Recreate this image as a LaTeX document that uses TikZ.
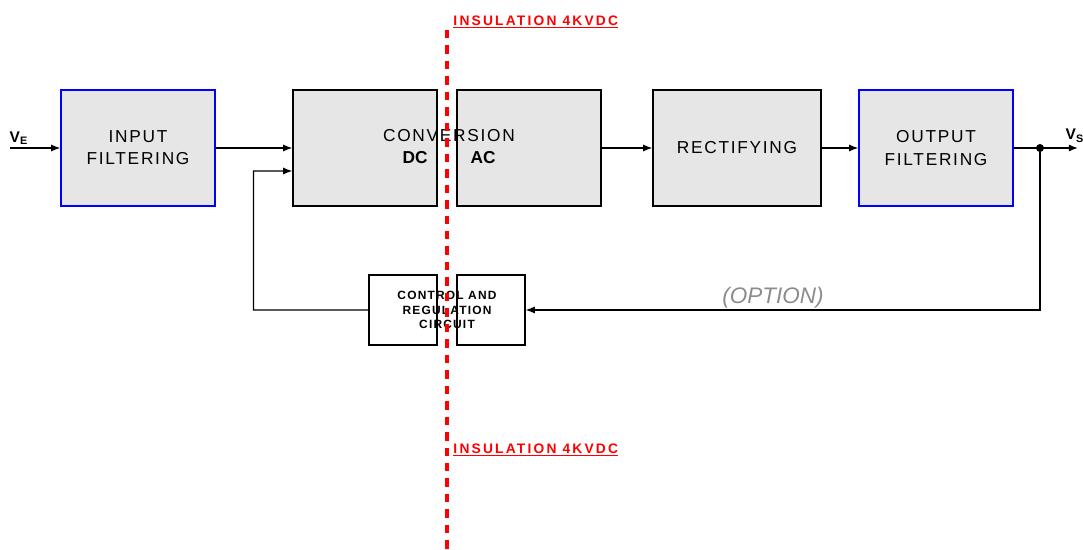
\documentclass[tikz,border=0pt]{standalone}
\usepackage{fontspec}
\setmainfont{Liberation Sans}
\newfontfamily\spacedfont[LetterSpace=10]{Liberation Sans}
\newfontfamily\widefont[LetterSpace=16]{Liberation Sans}
\usepackage{xcolor}
\usetikzlibrary{arrows.meta, positioning, calc}
\definecolor{boxgray}{RGB}{230,230,230}
\definecolor{filterblue}{RGB}{0,0,255}
\definecolor{isored}{RGB}{255,0,0}

\begin{document}
\begin{tikzpicture}[
  box/.style={draw, line width=0.9pt, fill=boxgray,
              font=\spacedfont\fontsize{12.3}{15.8}\selectfont, align=center,
              minimum width=3.6cm, minimum height=2.9cm},
  filterbox/.style={box, draw=filterblue, minimum width=3.85cm},
  ctrlbox/.style={draw, line width=0.9pt, fill=white,
              minimum width=1.7cm, minimum height=1.75cm},
  arr/.style={-{Latex[length=6.5pt, width=5pt]}, line width=0.9pt},
  isolbl/.style={font=\widefont\bfseries\fontsize{9.8}{11}\selectfont,
              text=isored, anchor=west, inner sep=0pt},
]
\useasboundingbox (0,0) rectangle (27.075,-13.75);

% ── Main chain ────────────────────────────────────────────────
\node[filterbox] (infilt) at (3.45,-3.7) {INPUT\\FILTERING};
\node[box] (convdc) at (9.125,-3.7) {};
\node[box] (convac) at (13.225,-3.7) {};
\node[box, minimum width=4.2cm] (rect) at (18.425,-3.7) {RECTIFYING};
\node[filterbox] (outfilt) at (23.4,-3.7) {OUTPUT\\FILTERING};

\node[font=\spacedfont\fontsize{12.3}{14}\selectfont] (convlbl) at (11.225,-3.4)
  {CONVERSION};
\node[font=\bfseries\fontsize{12.3}{14}\selectfont] (dclbl) at (10.375,-3.95) {DC};
\node[font=\bfseries\fontsize{12.3}{14}\selectfont] (aclbl) at (12.075,-3.95) {AC};

% ── Control ──────────────────────────────────────────────────
\node[ctrlbox] (ctrlL) at (10.075,-7.75) {};
\node[ctrlbox] (ctrlR) at (12.275,-7.75) {};
\node[font=\spacedfont\bfseries\fontsize{8.5}{10.4}\selectfont, align=center]
  (ctrllbl) at (11.175,-7.75) {CONTROL AND\\REGULATION\\CIRCUIT};

% ── Terminals ────────────────────────────────────────────────
\coordinate (vin) at (0.25,-3.7);
\coordinate (vout) at (26.95,-3.7);
\coordinate (tap) at (26.0,-3.7);
\node[font=\bfseries\fontsize{11}{13}\selectfont, anchor=south west, inner sep=1pt]
  (velbl) at (0.2,-3.65) {V\textsubscript{E}};
\node[font=\bfseries\fontsize{11}{13}\selectfont, anchor=south west, inner sep=1pt]
  (vslbl) at (26.6,-3.6) {V\textsubscript{S}};

\draw[arr] (vin) -- (infilt.west);
\draw[arr] (infilt.east) -- (convdc.west);
\draw[arr] (convac.east) -- (rect.west);
\draw[arr] (rect.east) -- (outfilt.west);
\draw[arr] (outfilt.east) -- (vout);
\fill (tap) circle (0.1);

% feedback loops
\draw[arr] (ctrlL.west) -| (6.335,-4.275) -- ($(convdc.west)+(0,-0.575)$);
\draw[arr] (tap) |- (ctrlR.east);
\node[font=\itshape\fontsize{16}{18}\selectfont, text=gray!90] (optlbl)
  at (19.325,-7.45) {(OPTION)};

% ── Insulation barrier ───────────────────────────────────────
\draw[isored, line width=2.6pt, dash pattern=on 6pt off 5pt] (11.175,-0.75) -- (11.175,-13.75);
\node[isolbl] (isotop) at (11.33,-0.55) {\underline{INSULATION 4KVDC}};
\node[isolbl] (isobot) at (11.33,-11.25) {\underline{INSULATION 4KVDC}};

\end{tikzpicture}
\end{document}
